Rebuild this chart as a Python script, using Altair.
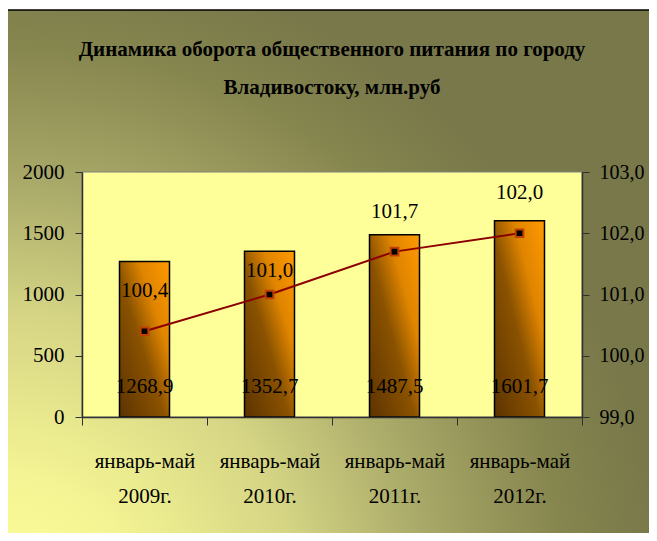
import altair as alt
import pandas as pd

categories = ["январь-май 2009г.", "январь-май 2010г.", "январь-май 2011г.", "январь-май 2012г."]
turnover = [1268.9, 1352.7, 1487.5, 1601.7]
index_pct = [100.4, 101.0, 101.7, 102.0]
left_ticks = [0, 500, 1000, 1500, 2000]
right_ticks = [99, 100, 101, 102, 103]
title_text = "Динамика оборота общественного питания по городу\nВладивостоку, млн.руб"

df = pd.DataFrame({"cat": categories, "val": turnover, "pct": index_pct})
one = pd.DataFrame({"t": [title_text]})

W, H = 500, 245
FONT = "Liberation Serif"

xenc = alt.X("cat:N", sort=categories,
             scale=alt.Scale(paddingInner=0, paddingOuter=0),
             axis=alt.Axis(title=None, labelExpr="split(datum.label, ' ')",
                           labelFont=FONT, labelFontSize=21, labelColor="black",
                           labelLineHeight=35, labelPadding=25, labelAngle=0,
                           tickBand="extent", tickSize=8, tickColor="#303030",
                           domainColor="#303030", domainWidth=1.5, zindex=1))

bg_grad = alt.Gradient(gradient="radial", x1=0, y1=1, r1=0, x2=0, y2=1, r2=1,
                       stops=[alt.GradientStop(offset=0, color="#ffff99"),
                              alt.GradientStop(offset=0.2, color="#f4f494"),
                              alt.GradientStop(offset=0.45, color="#d4d484"),
                              alt.GradientStop(offset=0.65, color="#a8a868"),
                              alt.GradientStop(offset=0.85, color="#86864f"),
                              alt.GradientStop(offset=1, color="#78784a")])

background = alt.Chart(one).mark_rect(fill=bg_grad, stroke="black", strokeWidth=1.5).encode(
    x=alt.value(-78), x2=alt.value(580), y=alt.value(-162), y2=alt.value(372))

plotfill = alt.Chart(one).mark_rect(fill="#FFFF99", stroke="#808080", strokeWidth=1).encode(
    x=alt.value(0), x2=alt.value(W), y=alt.value(0), y2=alt.value(H))

title = alt.Chart(one).mark_text(font=FONT, fontSize=21, fontWeight="bold", align="center",
                                 baseline="top", lineBreak="\n", lineHeight=38,
                                 color="black").encode(
    x=alt.value(W / 2), y=alt.value(-133), text="t:N")

bar_grad = alt.Gradient(gradient="linear", x1=1, y1=0, x2=0, y2=1,
                        stops=[alt.GradientStop(offset=0, color="#ff9900"),
                               alt.GradientStop(offset=0.3, color="#e08500"),
                               alt.GradientStop(offset=0.55, color="#8a5200"),
                               alt.GradientStop(offset=1, color="#5c3300")])

ybar = alt.Y("val:Q", scale=alt.Scale(domain=[0, 2000], nice=False),
             axis=alt.Axis(title=None, values=left_ticks, grid=False, format="d",
                           labelFont=FONT, labelFontSize=21, labelColor="black",
                           labelPadding=11, tickSize=7, tickColor="#303030",
                           domainColor="#303030", domainWidth=1.5, zindex=1))

bars = alt.Chart(df).mark_bar(size=50, fill=bar_grad, stroke="black", strokeWidth=1.5).encode(
    x=xenc, y=ybar)

bar_labels = alt.Chart(df).transform_calculate(
    lab="replace(format(datum.val, '.1f'), '.', ',')"
).mark_text(font=FONT, fontSize=21, color="black", baseline="middle", dy=-30).encode(
    x=alt.X("cat:N", sort=categories), y=alt.datum(0), text="lab:N")

yline = alt.Y("pct:Q", scale=alt.Scale(domain=[99, 103], nice=False),
              axis=alt.Axis(title=None, orient="right", values=right_ticks, grid=False,
                            labelExpr="replace(format(datum.value, '.1f'), '.', ',')",
                            labelFont=FONT, labelFontSize=20, labelColor="black",
                            labelPadding=10, tickSize=7, tickColor="#303030",
                            domainColor="#303030", domainWidth=1.5, zindex=1))

line = alt.Chart(df).mark_line(color="#8B0000", strokeWidth=2).encode(
    x=alt.X("cat:N", sort=categories), y=yline)

points = alt.Chart(df).mark_point(shape="square", filled=True, fill="black", stroke="#C04000",
                                  strokeWidth=2, size=60, opacity=1).encode(
    x=alt.X("cat:N", sort=categories), y=alt.Y("pct:Q"))

pct_lab = "replace(format(datum.pct, '.1f'), '.', ',')"
line_labels = alt.Chart(df).transform_filter("datum.pct != 101.0").transform_calculate(
    lab=pct_lab
).mark_text(font=FONT, fontSize=21, color="black", baseline="middle", dy=-40).encode(
    x=alt.X("cat:N", sort=categories), y=alt.Y("pct:Q"), text="lab:N")

line_labels2 = alt.Chart(df).transform_filter("datum.pct == 101.0").transform_calculate(
    lab=pct_lab
).mark_text(font=FONT, fontSize=21, color="black", baseline="middle", dy=-24).encode(
    x=alt.X("cat:N", sort=categories), y=alt.Y("pct:Q"), text="lab:N")

left_layer = alt.layer(background, plotfill, title, bars, bar_labels)
right_layer = alt.layer(line, points, line_labels, line_labels2)

chart = alt.layer(left_layer, right_layer).resolve_scale(y="independent").properties(
    width=W, height=H,
    autosize=alt.AutoSizeParams(type="none"),
    padding={"left": 74, "top": 164, "right": 67, "bottom": 116},
    background="white",
).configure_view(stroke=None)

chart.save("out.html", embed_options={"renderer": "svg", "actions": False})
